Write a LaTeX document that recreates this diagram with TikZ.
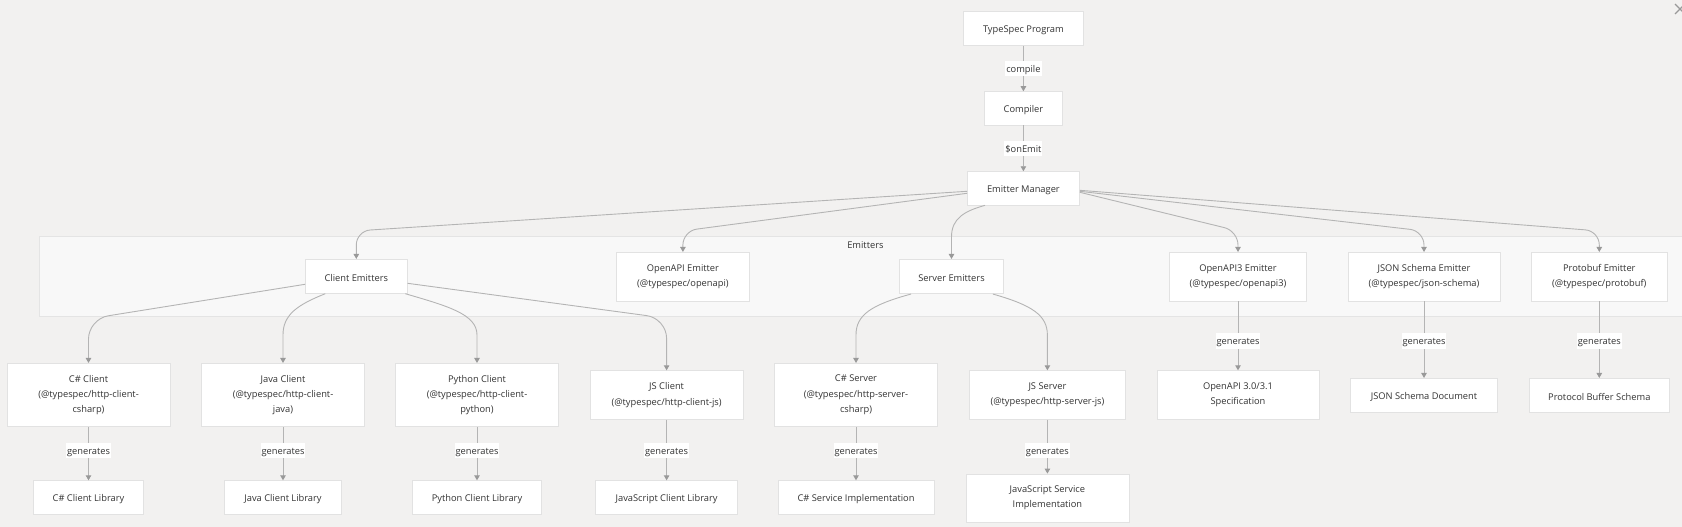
\documentclass[tikz,border=0pt]{standalone}
\usepackage{fontspec}
\setmainfont{Open Sans}
\usetikzlibrary{arrows.meta,calc}
\definecolor{bg}{HTML}{F2F1F0}
\definecolor{clfill}{HTML}{F8F8F8}
\definecolor{clborder}{HTML}{E4E4E4}
\definecolor{nodeborder}{HTML}{E2E2E2}
\definecolor{linec}{HTML}{B4B4B4}
\definecolor{tipc}{HTML}{999999}
\definecolor{txt}{HTML}{333333}
\begin{document}
\begin{tikzpicture}[x=1pt,y=-1pt,
  font=\fontsize{9.3}{15.3}\selectfont,
  sz/.style 2 args={minimum width=#1pt, minimum height=#2pt},
  box/.style={draw=nodeborder, fill=white, line width=0.8pt, text=txt, align=center, inner sep=0pt,
    execute at begin node={\rule{0pt}{11pt}}},
  clusterbox/.style={draw=clborder, fill=clfill, line width=0.8pt, inner sep=0pt},
  edgeline/.style={draw=linec, line width=0.9pt, -{Triangle[length=5pt,width=5.5pt,color=tipc]}},
  lbl/.style={fill=white, inner xsep=1pt, inner ysep=2pt, text=txt, text height=9.5pt, text depth=2pt},
  plaintext/.style={text=txt, inner sep=0pt, text height=9.5pt, text depth=2pt},
  closex/.style={draw=tipc, line width=1.1pt}
]
\useasboundingbox (0,0) rectangle (1682,527);
\fill[bg] (0,0) rectangle (1682,527);

% close mark
\draw[closex] (1675,4) -- (1685,14);
\draw[closex] (1675,14) -- (1685,4);

% top chain
\node[box, sz={120}{33.3}] (tsp) at (1023.4,28.5) {TypeSpec Program};
\node[box, sz={78.4}{33.3}] (comp) at (1023.4,108.3) {Compiler};
\node[box, sz={112}{33.3}] (em) at (1023.4,188.3) {Emitter Manager};
\draw[edgeline] (tsp) -- node[lbl]{compile} (comp);
\draw[edgeline] (comp) -- node[lbl]{\$onEmit} (em);

% cluster
\node[clusterbox, sz={1653}{79.3}] (emitters) at (866,276.35) {};
\node[plaintext] (emlabel) at (865.4,244.3) {Emitters};

\node[box, sz={101.7}{34}] (ce) at (356.3,276.3) {Client Emitters};
\node[box, sz={132.9}{48.7}] (oa) at (682.9,276.7) {OpenAPI Emitter\\(@typespec/openapi)};
\node[box, sz={104.3}{34.3}] (se) at (951.5,276.5) {Server Emitters};
\node[box, sz={137.5}{48.7}] (oa3) at (1238,276.7) {OpenAPI3 Emitter\\(@typespec/openapi3)};
\node[box, sz={152}{48.7}] (jse) at (1424,276.7) {JSON Schema Emitter\\(@typespec/json-schema)};
\node[box, sz={135.3}{48.7}] (pbe) at (1599.3,276.7) {Protobuf Emitter\\(@typespec/protobuf)};

% row 3
\node[box, sz={163}{63.3}] (csc) at (88.5,395) {C\# Client\\(@typespec/http-client-\\csharp)};
\node[box, sz={162.5}{63.3}] (jc) at (283,395) {Java Client\\(@typespec/http-client-\\java)};
\node[box, sz={162.5}{63.3}] (pc) at (477,395) {Python Client\\(@typespec/http-client-\\python)};
\node[box, sz={153.2}{48.6}] (jsc) at (666.6,395) {JS Client\\(@typespec/http-client-js)};
\node[box, sz={163}{63.3}] (css) at (856,395) {C\# Server\\(@typespec/http-server-\\csharp)};
\node[box, sz={155.4}{48.6}] (jss) at (1047.4,395) {JS Server\\(@typespec/http-server-js)};
\node[box, sz={162}{48.6}] (spec) at (1238,395) {OpenAPI 3.0/3.1\\Specification};
\node[box, sz={147.5}{33.7}] (jsdoc) at (1424,395.2) {JSON Schema Document};
\node[box, sz={140.4}{33.7}] (pbs) at (1599.3,395.2) {Protocol Buffer Schema};

% row 4
\node[box, sz={109.6}{33.6}] (cslib) at (88.5,497.5) {C\# Client Library};
\node[box, sz={116.8}{33.6}] (jlib) at (283,497.5) {Java Client Library};
\node[box, sz={129.3}{33.6}] (plib) at (477,497.5) {Python Client Library};
\node[box, sz={141.8}{33.6}] (jslib) at (666.6,497.5) {JavaScript Client Library};
\node[box, sz={156}{33.6}] (csimpl) at (856,497.5) {C\# Service Implementation};
\node[box, sz={163}{48}] (jsimpl) at (1047.4,498) {JavaScript Service\\Implementation};

% emitter manager edges
\draw[edgeline, rounded corners=14pt] ($(em.west)+(0,3)$) -- ($(ce.north)+(0,-28)$) -- (ce.north);
\draw[edgeline, rounded corners=14pt] ($(em.west)+(0,5)$) -- ($(oa.north)+(0,-21)$) -- (oa.north);
\draw[edgeline] ($(em.south)+(-38.4,0)$) .. controls ($(se.north)+(13.5,-48)$) and ($(se.north)+(0,-41)$) .. ($(se.north)+(0,-22)$) -- (se.north);
\draw[edgeline, rounded corners=14pt] ($(em.east)+(0,4)$) -- ($(oa3.north)+(0,-21)$) -- (oa3.north);
\draw[edgeline, rounded corners=14pt] ($(em.east)+(0,3)$) -- ($(jse.north)+(0,-21)$) -- (jse.north);
\draw[edgeline, rounded corners=14pt] ($(em.east)+(0,2)$) -- ($(pbe.north)+(0,-21)$) -- (pbe.north);

% client emitters edges
\draw[edgeline, rounded corners=20pt] ($(ce.west)+(0,8)$) -- ($(csc.north)+(0,-44)$) -- (csc.north);
\draw[edgeline] ($(ce.south)+(-31,0)$) .. controls ($(jc.north)+(14,-58)$) and ($(jc.north)+(0,-48)$) .. ($(jc.north)+(0,-28)$) -- (jc.north);
\draw[edgeline] ($(ce.south)+(49,0)$) .. controls ($(pc.north)+(-30,-57)$) and ($(pc.north)+(0,-49)$) .. ($(pc.north)+(0,-28)$) -- (pc.north);
\draw[edgeline, rounded corners=20pt] ($(ce.east)+(0,7)$) -- ($(jsc.north)+(0,-52)$) -- (jsc.north);

% server emitters edges
\draw[edgeline] ($(se.south)+(-40.5,0)$) .. controls ($(css.north)+(15,-58)$) and ($(css.north)+(0,-48)$) .. ($(css.north)+(0,-28)$) -- (css.north);
\draw[edgeline] ($(se.south)+(41.4,0)$) .. controls ($(jss.north)+(-15,-65)$) and ($(jss.north)+(0,-55)$) .. ($(jss.north)+(0,-35)$) -- (jss.north);

% generates edges
\draw[edgeline] (csc) -- node[lbl,pos=0.444]{generates} (cslib);
\draw[edgeline] (jc) -- node[lbl,pos=0.444]{generates} (jlib);
\draw[edgeline] (pc) -- node[lbl,pos=0.444]{generates} (plib);
\draw[edgeline] (jsc) -- node[lbl,pos=0.511]{generates} (jslib);
\draw[edgeline] (css) -- node[lbl,pos=0.444]{generates} (csimpl);
\draw[edgeline] (jss) -- node[lbl,pos=0.574]{generates} (jsimpl);
\draw[edgeline] (oa3) -- node[lbl,pos=0.574]{generates} (spec);
\draw[edgeline] (jse) -- node[lbl,pos=0.517]{generates} (jsdoc);
\draw[edgeline] (pbe) -- node[lbl,pos=0.517]{generates} (pbs);
\end{tikzpicture}
\end{document}
